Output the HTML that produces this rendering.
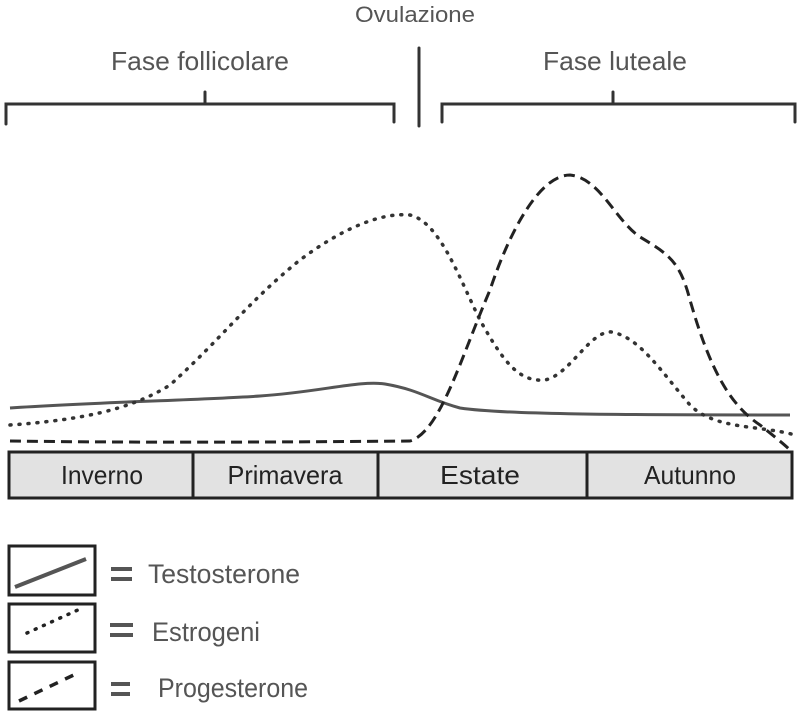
<!DOCTYPE html>
<html><head><meta charset="utf-8"><style>
html,body{margin:0;padding:0;background:#fff;}
svg{display:block;}
text{font-family:"Liberation Sans",sans-serif;fill:#555;}
</style></head><body>
<svg width="800" height="717" viewBox="0 0 800 717">
<text x="415" y="22" font-size="22" text-anchor="middle" textLength="120" lengthAdjust="spacingAndGlyphs">Ovulazione</text>
<text x="200" y="70" font-size="26" text-anchor="middle" textLength="178" lengthAdjust="spacingAndGlyphs">Fase follicolare</text>
<text x="615" y="70" font-size="26" text-anchor="middle" textLength="144" lengthAdjust="spacingAndGlyphs">Fase luteale</text>
<g stroke="#333" stroke-width="3" fill="none" stroke-linecap="round">
<path d="M6 124 V104 H394 V122"/><path d="M205 104 V92"/>
<path d="M442 122 V104 H795 V122"/><path d="M613 104 V92"/>
<path d="M419 48 V126"/>
</g>
<g fill="none" stroke-width="3">
<path stroke="#555" d="M10 408 C100 402 200 400 260 396 C320 392 360 380 385 384 C420 390 430 400 460 408 C500 414 600 415 790 415"/>
<path stroke="#333" stroke-width="3.5" stroke-dasharray="1 8" stroke-linecap="round" d="M10 425 C80 420 130 410 170 385 C220 340 250 300 300 260 C340 230 380 212 410 215 C440 222 460 280 480 320 C505 365 520 382 545 380 C570 375 590 330 612 332 C640 338 660 370 690 405 C715 430 760 425 795 435"/>
<path stroke="#222" stroke-dasharray="11 6" d="M10 441 C150 443 300 442 410 441 C440 432 460 360 490 290 C510 230 540 175 570 175 C600 178 615 220 640 237 C670 255 680 262 690 300 C710 370 730 405 760 425 C775 437 785 445 790 450"/>
</g>
<g stroke="#222" stroke-width="3" fill="#e2e2e2">
<rect x="9" y="452" width="783" height="46"/>
<path d="M193 452 V498 M378 452 V498 M587 452 V498" fill="none"/>
</g>
<g font-size="26">
<text x="102" y="484" text-anchor="middle" textLength="82" lengthAdjust="spacingAndGlyphs" style="fill:#222">Inverno</text>
<text x="285" y="484" text-anchor="middle" textLength="115" lengthAdjust="spacingAndGlyphs" style="fill:#222">Primavera</text>
<text x="480" y="484" text-anchor="middle" textLength="80" lengthAdjust="spacingAndGlyphs" style="fill:#222">Estate</text>
<text x="690" y="484" text-anchor="middle" textLength="92" lengthAdjust="spacingAndGlyphs" style="fill:#222">Autunno</text>
</g>
<g stroke="#222" stroke-width="3" fill="none">
<rect x="9" y="546" width="86" height="49"/>
<rect x="9" y="604" width="86" height="48"/>
<rect x="9" y="662" width="86" height="47"/>
<path d="M15 587 L86 559" stroke="#555" stroke-width="4"/>
<path d="M27 633 L80 609" stroke-width="3.5" stroke-dasharray="1 8" stroke-linecap="round"/>
<path d="M19 701 L80 672" stroke-dasharray="9 8" stroke-width="3.5"/>
</g>
<g stroke="#555" stroke-width="4">
<path d="M111 569 H132 M111 579 H132"/>
<path d="M110 625 H133 M110 635 H133"/>
<path d="M111 684 H130 M111 694 H130"/>
</g>
<text x="148" y="583" font-size="27" textLength="152" lengthAdjust="spacingAndGlyphs">Testosterone</text>
<text x="152" y="641" font-size="27" textLength="108" lengthAdjust="spacingAndGlyphs">Estrogeni</text>
<text x="158" y="697" font-size="27" textLength="150" lengthAdjust="spacingAndGlyphs">Progesterone</text>
</svg>
</body></html>
